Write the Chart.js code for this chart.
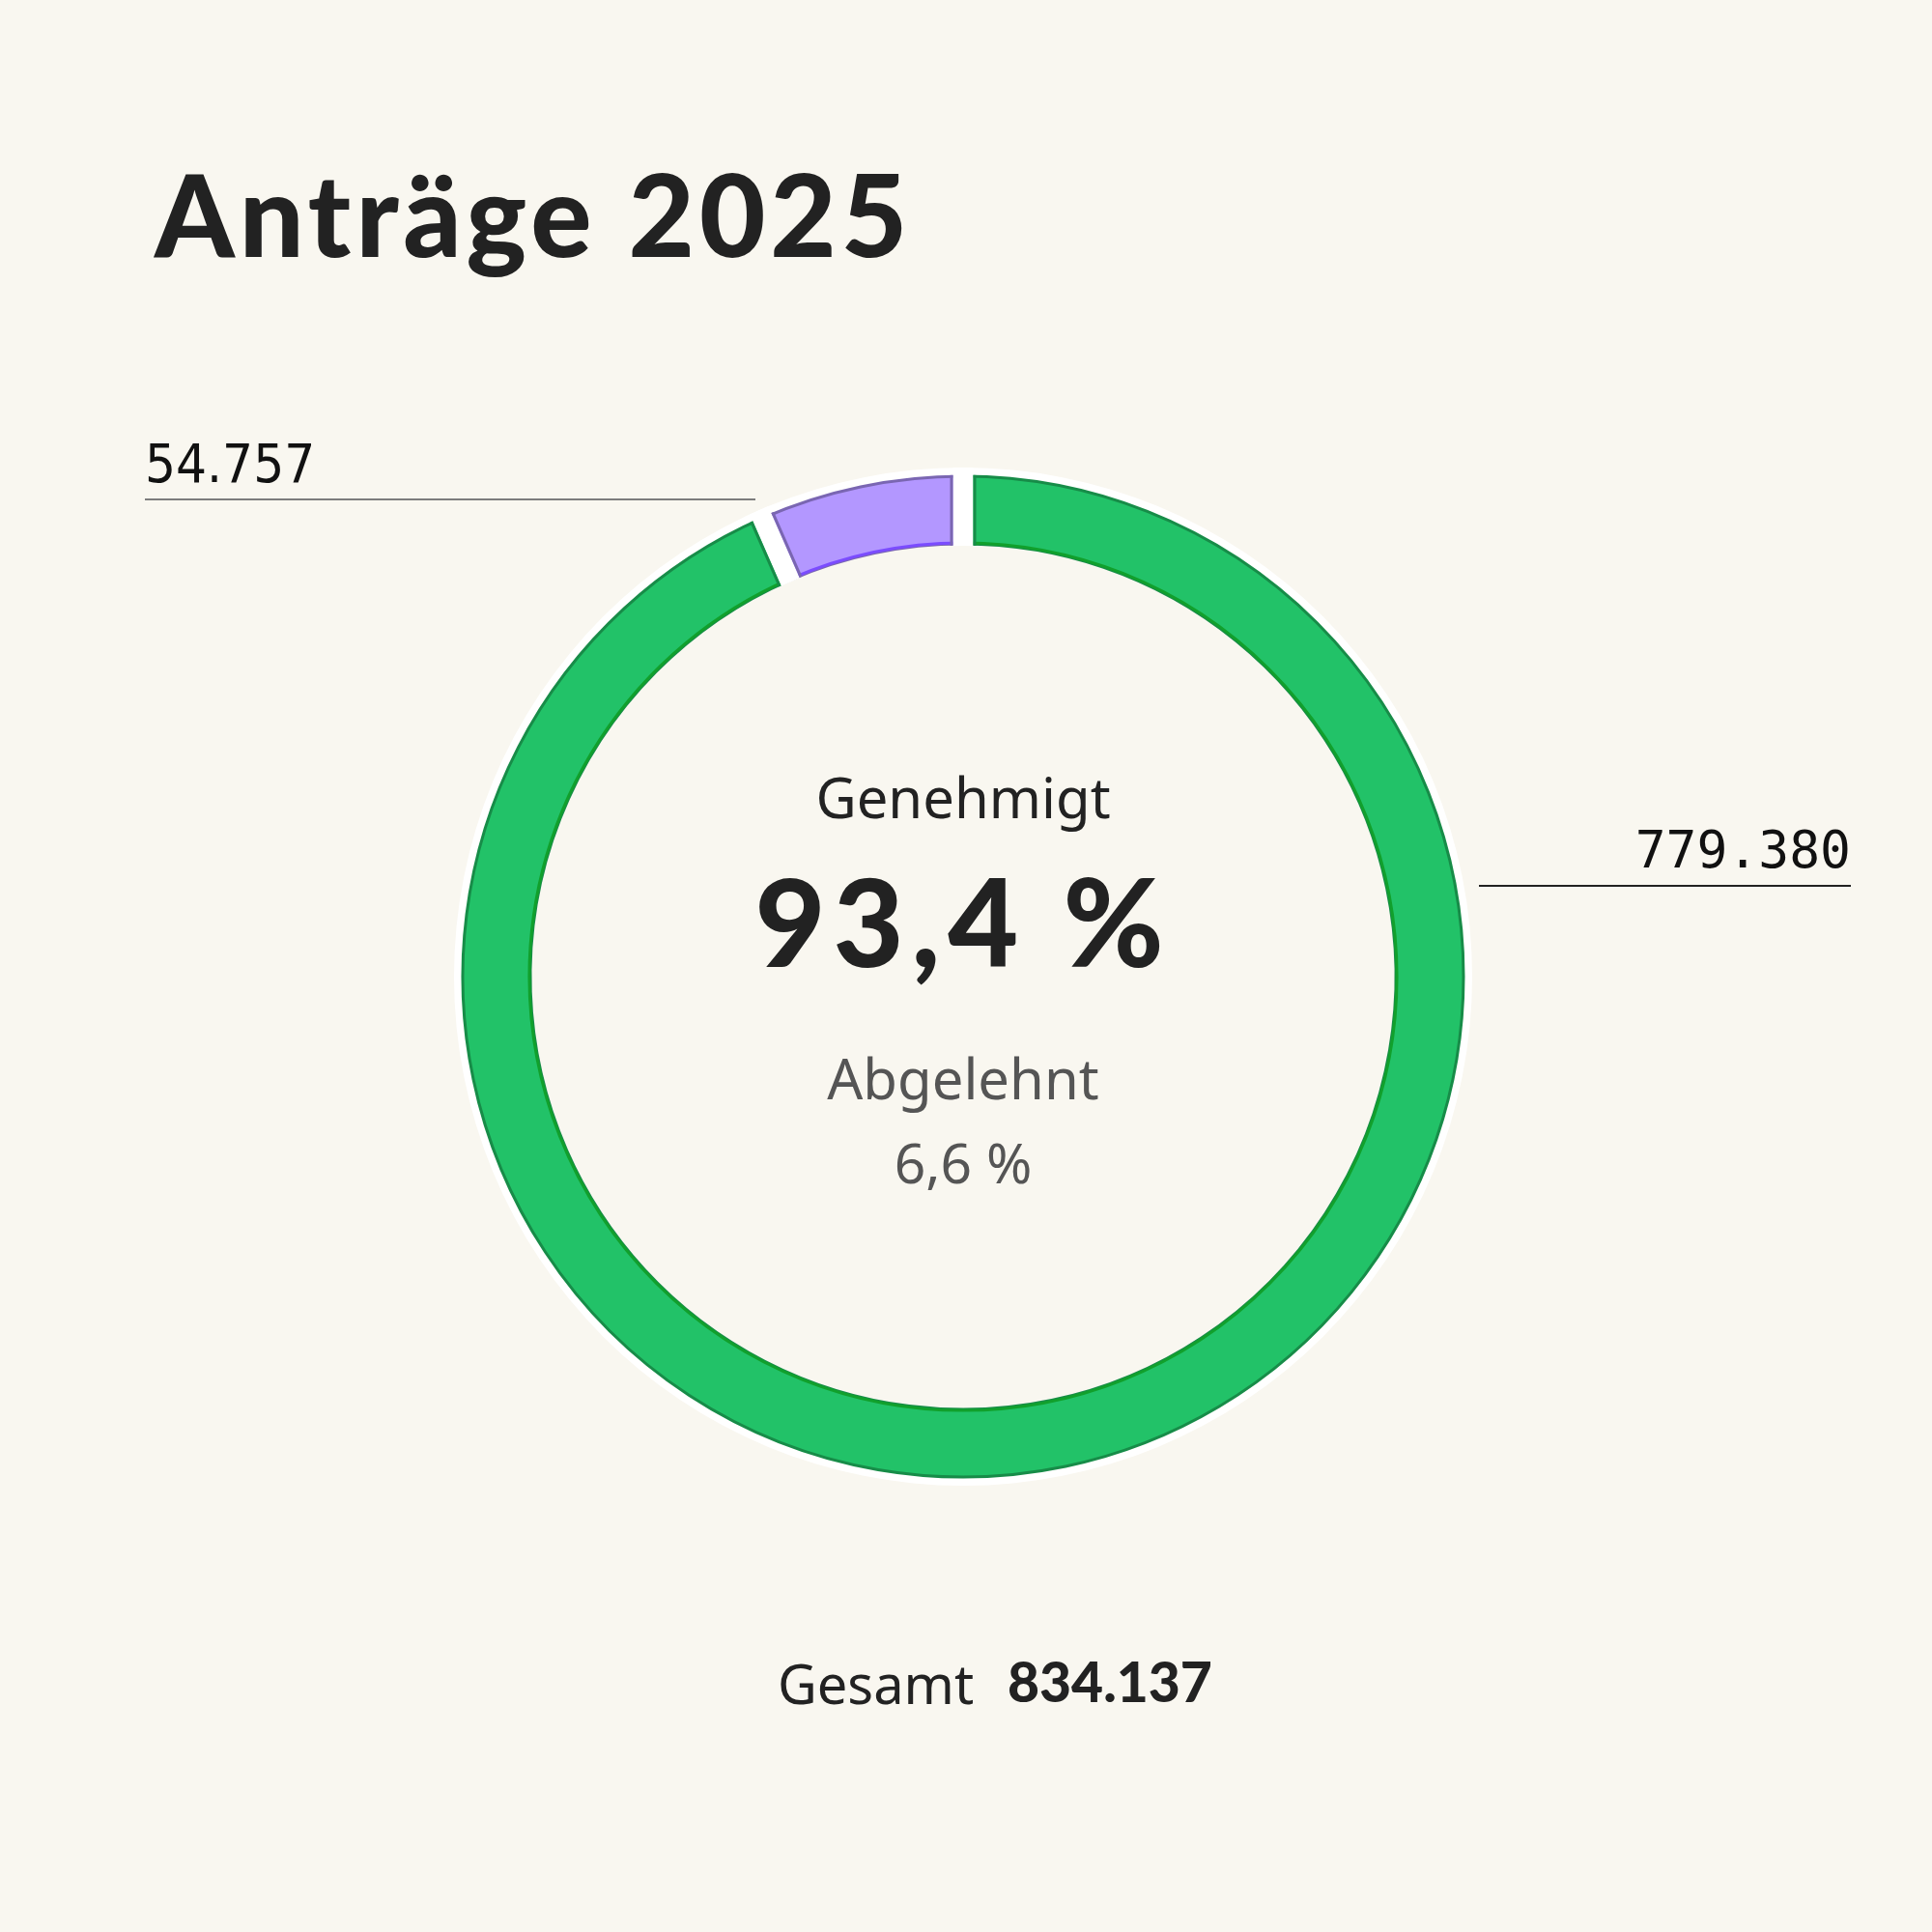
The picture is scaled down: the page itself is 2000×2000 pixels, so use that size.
<!DOCTYPE html>
<html lang="de">
<head>
<meta charset="utf-8">
<title>Anträge 2025</title>
<script src="https://cdn.jsdelivr.net/npm/chart.js@4.4.1/dist/chart.umd.min.js"></script>
<style>
  html, body { margin: 0; padding: 0; background: #f9f7f0; }
  #wrap { position: relative; width: 2000px; height: 2000px; background: #f9f7f0; overflow: hidden; }
  #wrap canvas { position: absolute; left: 0; top: 0; }
  .t { position: absolute; white-space: nowrap; line-height: 1; margin: 0; }
  .mid { left: 997px; transform: translateX(-50%); }
  #title { left: 160px; top: 150px; font: 900 118px Lato, "Noto Sans", sans-serif; letter-spacing: 5px; color: #222; }
  #lblLeft { left: 150px; top: 452px; font-family: "DejaVu Sans Condensed", "DejaVu Sans", sans-serif; font-stretch: condensed; font-size: 56px; color: #111; }
  #lblRight { right: 84px; top: 849px; font: 53px "DejaVu Sans Mono", monospace; color: #111; }
  .rule { position: absolute; height: 1.5px; }
  #ruleLeft { left: 150px; width: 632px; top: 516px; background: #7d7d7d; }
  #ruleRight { left: 1531px; width: 385px; top: 916px; background: #222; }
  #cTop { top: 785px; font: 58px "Noto Sans", sans-serif; color: #222; }
  #cBig { top: 877px; font: 900 126px Lato, "Noto Sans", sans-serif; letter-spacing: 8px; color: #222; }
  #cSub { top: 1076px; font: 58px "Noto Sans", sans-serif; color: #555; }
  #cSubVal { top: 1164px; font: 57px "Noto Sans", sans-serif; color: #555; }
  #totLabel { left: 805px; top: 1704px; font: 56px "Noto Sans", sans-serif; color: #222; }
  #totValue { left: 1043px; top: 1706px; font: 900 57px Lato, "Noto Sans", sans-serif; color: #222; }
</style>
</head>
<body>
<div id="wrap">
  <canvas id="ring" width="2000" height="2000"></canvas>
  <div class="t" id="title">Anträge 2025</div>
  <div class="t" id="lblLeft"></div>
  <div class="rule" id="ruleLeft"></div>
  <div class="t" id="lblRight"></div>
  <div class="rule" id="ruleRight"></div>
  <div class="t mid" id="cTop"></div>
  <div class="t mid" id="cBig"></div>
  <div class="t mid" id="cSub"></div>
  <div class="t mid" id="cSubVal"></div>
  <div class="t" id="totLabel">Gesamt</div>
  <div class="t" id="totValue"></div>
</div>
<script>
// Daten
const labels = ['Genehmigt', 'Abgelehnt'];
const values = [779380, 54757];
const shareLabels = ['93,4 %', '6,6 %'];
const totalLabel = '834.137';

// Farben
const fillColors = ['#22c268', '#b397ff'];
const edgeColors = ['#178c48', '#7a66b2'];
const innerColors = ['#11a02c', '#7b4cff'];
const gap = 21;

const fmt = (n) => n.toLocaleString('de-DE');

document.getElementById('lblLeft').textContent = fmt(values[1]);
document.getElementById('lblRight').textContent = fmt(values[0]);
document.getElementById('cTop').textContent = labels[0];
document.getElementById('cBig').textContent = shareLabels[0];
document.getElementById('cSub').textContent = labels[1];
document.getElementById('cSubVal').textContent = shareLabels[1];
document.getElementById('totValue').textContent = totalLabel;

// weißer Rand, Lücken und Innenkante der Segmente
const ringDeco = {
    id: 'ringDeco',
    beforeDatasetsDraw(chart) {
        const a = chart.getDatasetMeta(0).data[0];
        const c = chart.ctx;
        c.save();
        c.beginPath();
        c.arc(a.x, a.y, a.outerRadius + 9, 0, Math.PI * 2);
        c.arc(a.x, a.y, a.innerRadius, 0, Math.PI * 2, true);
        c.fillStyle = '#ffffff';
        c.fill();
        c.restore();
    },
    afterDatasetsDraw(chart) {
        const arcs = chart.getDatasetMeta(0).data;
        const c = chart.ctx;
        const { x, y, innerRadius: rIn, outerRadius: rOut } = arcs[0];
        const w = gap / 2;

        c.save();
        c.lineWidth = 3;
        arcs.forEach((arc, i) => {
            c.beginPath();
            c.arc(x, y, rIn + 1, arc.startAngle, arc.endAngle);
            c.strokeStyle = innerColors[i];
            c.stroke();
        });

        // Lücken
        c.beginPath();
        c.arc(x, y, rOut + 9, 0, Math.PI * 2);
        c.arc(x, y, rIn - 2, 0, Math.PI * 2, true);
        c.clip();
        arcs.forEach((arc) => {
            const t = arc.startAngle;
            const ux = Math.cos(t), uy = Math.sin(t);
            const nx = -uy, ny = ux;
            const L = rOut + 20;
            c.beginPath();
            c.moveTo(x + nx * w, y + ny * w);
            c.lineTo(x + nx * w + ux * L, y + ny * w + uy * L);
            c.lineTo(x - nx * w + ux * L, y - ny * w + uy * L);
            c.lineTo(x - nx * w, y - ny * w);
            c.closePath();
            c.fillStyle = '#ffffff';
            c.fill();
        });
        c.restore();

        // Seitenkanten
        c.save();
        c.beginPath();
        c.arc(x, y, rOut + 1.5, 0, Math.PI * 2);
        c.arc(x, y, rIn - 1.5, 0, Math.PI * 2, true);
        c.clip();
        c.lineWidth = 3;
        arcs.forEach((arc, i) => {
            const prev = (i - 1 + arcs.length) % arcs.length;
            const t = arc.startAngle;
            const ux = Math.cos(t), uy = Math.sin(t);
            const nx = -uy, ny = ux;
            const L = rOut + 20;
            [[w + 1.5, edgeColors[i]], [-(w + 1.5), edgeColors[prev]]].forEach(([d, col]) => {
                c.beginPath();
                c.moveTo(x + nx * d, y + ny * d);
                c.lineTo(x + nx * d + ux * L, y + ny * d + uy * L);
                c.strokeStyle = col;
                c.stroke();
            });
        });
        c.restore();
    }
};

new Chart(document.getElementById('ring').getContext('2d'), {
    type: 'doughnut',
    data: {
        labels: labels,
        datasets: [{
            data: values,
            backgroundColor: fillColors,
            borderColor: edgeColors,
            borderWidth: 3
        }]
    },
    options: {
        responsive: false,
        animation: false,
        radius: 518,
        cutout: '86.5%',
        layout: { padding: { top: 22, right: 6 } },
        plugins: { legend: { display: false }, tooltip: { enabled: false } }
    },
    plugins: [ringDeco]
});
</script>
</body>
</html>
